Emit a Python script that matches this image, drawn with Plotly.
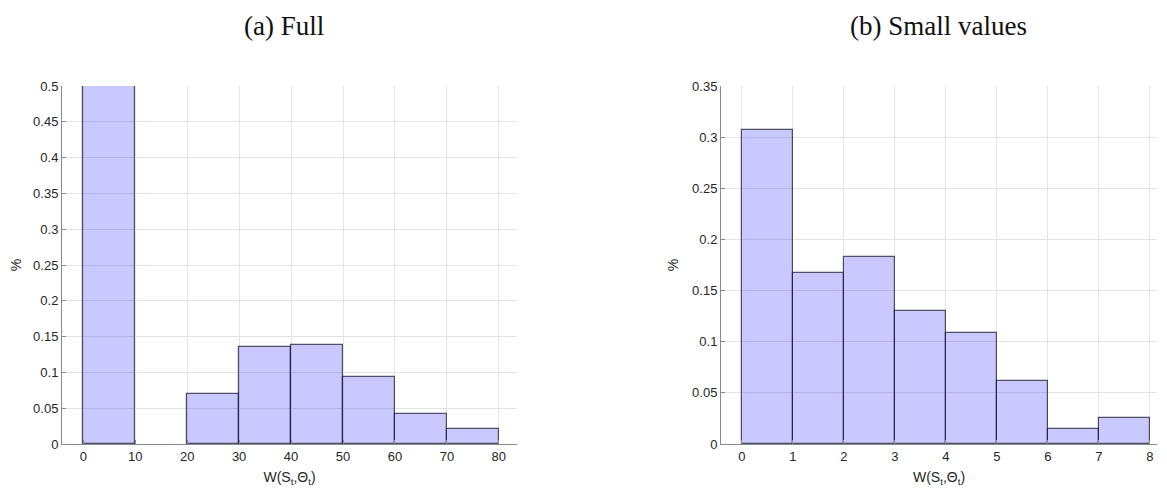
import plotly.graph_objects as go

# Panel (a): full range
full_edges = [0, 10, 20, 30, 40, 50, 60, 70, 80]
full_values = [0.5, 0.0, 0.0703, 0.1355, 0.1376, 0.0936, 0.0415, 0.0205]
full_xticks = [0, 10, 20, 30, 40, 50, 60, 70, 80]
full_yticks = [0, 0.05, 0.1, 0.15, 0.2, 0.25, 0.3, 0.35, 0.4, 0.45, 0.5]

# Panel (b): small values
small_edges = [0, 1, 2, 3, 4, 5, 6, 7, 8]
small_values = [0.307, 0.1667, 0.1824, 0.130, 0.109, 0.062, 0.0151, 0.0259]
small_xticks = [0, 1, 2, 3, 4, 5, 6, 7, 8]
small_yticks = [0, 0.05, 0.1, 0.15, 0.2, 0.25, 0.3, 0.35]

titles = ["(a) Full", "(b) Small values"]
xlabel = "W(S<sub>t</sub>,Θ<sub>t</sub>)"
ylabel = "%"

# the page body adds an 8px margin, so the figure is drawn 8px in from the corner
OFF = 8
W, H = 1167 - OFF, 491 - OFF

def px_x(p):
    return (p - OFF) / W

def px_y(p):
    return 1 - (p - OFF) / H

fig = go.Figure()

def centers(edges):
    return [(a + b) / 2 for a, b in zip(edges[:-1], edges[1:])]

def widths(edges):
    return [b - a for a, b in zip(edges[:-1], edges[1:])]

fill = "rgba(0,0,255,0.21)"
edge = "rgba(30,30,50,0.75)"

def outline(values):
    # empty bins show no outline
    return [1.2 if v > 0 else 0 for v in values]

fig.add_trace(go.Bar(x=centers(full_edges), y=full_values, width=widths(full_edges),
                     marker=dict(color=fill, line=dict(color=edge, width=outline(full_values))),
                     xaxis="x", yaxis="y", showlegend=False))
fig.add_trace(go.Bar(x=centers(small_edges), y=small_values, width=widths(small_edges),
                     marker=dict(color=fill, line=dict(color=edge, width=outline(small_values))),
                     xaxis="x2", yaxis="y2", showlegend=False))

SANS = "Liberation Sans, Arial, sans-serif"
ydom = [px_y(444), px_y(86)]
common_axis = dict(showgrid=True, gridcolor="#e3e3e3", gridwidth=1,
                   showline=True, linecolor="#8a8a8a", linewidth=1,
                   ticks="inside", ticklen=4, tickcolor="#8a8a8a",
                   tickfont=dict(family=SANS, size=13, color="#262626"),
                   zeroline=False, mirror=False, automargin=False)
label_font = dict(family=SANS, size=14, color="#262626")
title_font = dict(family="Liberation Serif, DejaVu Serif, serif", size=27, color="#111")

fig.update_layout(
    width=W, height=H,
    margin=dict(l=0, r=0, t=0, b=0),
    plot_bgcolor="white", paper_bgcolor="white",
    bargap=0,
    xaxis=dict(domain=[px_x(62), px_x(517)], range=[-4.1, 83.5], tickvals=full_xticks,
               title=dict(text=xlabel, standoff=9, font=label_font),
               anchor="y", **common_axis),
    yaxis=dict(domain=ydom, range=[0, 0.5], tickvals=full_yticks,
               ticktext=[f"{v:g}" for v in full_yticks],
               title=dict(text=ylabel, standoff=10, font=label_font),
               anchor="x", **common_axis),
    xaxis2=dict(domain=[px_x(721), px_x(1157)], range=[-0.41, 8.14], tickvals=small_xticks,
                title=dict(text=xlabel, standoff=9, font=label_font),
                anchor="y2", **common_axis),
    yaxis2=dict(domain=ydom, range=[0, 0.35], tickvals=small_yticks,
                ticktext=[f"{v:g}" for v in small_yticks],
                title=dict(text=ylabel, standoff=10, font=label_font),
                anchor="x2", **common_axis),
    annotations=[
        dict(text=titles[0], x=px_x(284), y=px_y(26), xref="paper", yref="paper",
             xanchor="center", yanchor="middle", showarrow=False, font=title_font),
        dict(text=titles[1], x=px_x(938), y=px_y(26), xref="paper", yref="paper",
             xanchor="center", yanchor="middle", showarrow=False, font=title_font),
    ],
)

fig.write_html("out.html")
